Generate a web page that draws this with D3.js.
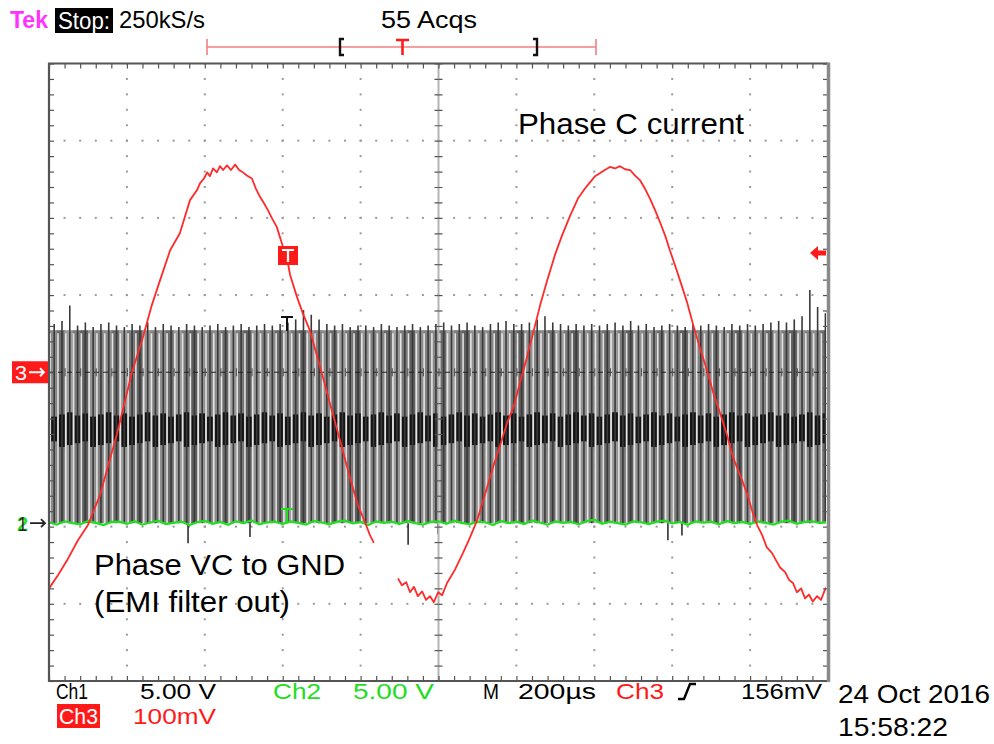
<!DOCTYPE html>
<html><head><meta charset="utf-8">
<script src="https://cdn.jsdelivr.net/npm/d3@7"></script>
<style>html,body{margin:0;padding:0;background:#fff;} svg{display:block;}</style>
</head><body><svg id="c" width="994" height="744"></svg>
<script>
// ---------------- DATA ----------------
const timeDomainUs = [0, 2000];          // 10 div x 200 µs
const divDomain = [-4, 4];               // 8 vertical divisions
const ch1VoltsPerDiv = 5, ch1PosDiv = -1.955;
const ch3mVPerDiv = 100, ch3PosDiv = 0;

// Ch3 (phase C current, red) – segment before sweep gap
const ch3Seg1T = [0,23,46,74,100,131,175,213,241,264,285,311,336,362,380,388,398,406,413,421,431,439,447,457,467,478,488,498,508,521,531,542,552,562,573,585,601,611,619,637,652,670,691,709,721,747,773,793,811,824,834];
const ch3Seg1mV = [-280,-263,-244,-218,-198,-159,-79,0,45,87,119,158,180,223,236,245,251,259,254,264,259,267,262,268,262,269,262,259,255,251,238,227,219,210,199,188,162,148,126,97,76,54,16,-17,-40,-88,-137,-172,-194,-211,-221];
// segment after gap
const ch3Seg2T = [896,906,917,927,937,947,958,968,978,988,999,1009,1022,1042,1063,1081,1099,1119,1140,1158,1176,1194,1209,1227,1243,1261,1279,1299,1317,1338,1358,1376,1389,1402,1415,1427,1440,1453,1466,1479,1492,1504,1517,1530,1543,1556,1569,1582,1594,1607,1620,1638,1653,1671,1689,1705,1723,1741,1756,1774,1792,1805,1818,1831,1843,1856,1867,1877,1890,1900,1910,1920,1931,1941,1951,1961,1972,1982,1992,1997];
const ch3Seg2mV = [-267,-276,-272,-285,-278,-290,-284,-295,-290,-298,-285,-289,-273,-256,-234,-214,-192,-159,-123,-95,-66,-43,-14,19,51,87,119,152,177,203,225,238,246,254,258,262,266,264,267,263,262,255,249,238,225,210,194,177,158,139,119,91,63,32,3,-26,-53,-82,-110,-133,-157,-179,-198,-211,-227,-234,-244,-253,-259,-269,-273,-285,-280,-293,-288,-297,-290,-295,-282,-278];

// Ch1 (phase VC to GND, black PWM) – one switching period per stripe
const ch1SwitchUs = 20;
const ch1HighV = 12.5;
const ch1MidBandV = [5.3, 6.9];
const ch1PeakV = [12.9,13.1,14.1,12.8,13.0,12.7,12.9,13.0,12.8,12.7,
  12.9,12.8,13.0,12.7,12.9,12.8,12.7,12.9,12.8,12.7,
  12.8,12.9,12.7,12.8,12.9,12.7,12.8,12.9,12.8,12.9,
  13.0,13.2,13.8,13.5,13.2,12.9,12.8,12.9,12.7,12.8,
  12.8,12.7,12.9,12.8,12.7,12.8,12.9,12.7,12.8,12.9,
  13.0,12.8,12.9,13.0,12.8,12.7,12.9,13.0,13.1,12.9,
  12.9,13.0,13.2,13.4,13.0,12.9,12.8,12.9,12.8,12.9,
  12.8,12.9,13.0,12.8,13.1,12.8,12.9,12.7,12.8,12.9,
  12.8,12.7,12.9,12.8,12.9,12.8,12.7,12.9,12.8,12.9,
  12.8,12.9,13.0,13.1,13.0,13.2,13.4,15.1,14.0,13.6];
const ch1DipT = [357,516,922,999,1589,1625];
const ch1DipV = [-1.3,-0.9,-1.4,-0.7,-1.1,-0.8];

// Ch2 (green) – sampled every 20 µs
const ch2V = [0.05,-0.1,0.12,0.0,-0.08,0.15,0.02,-0.12,0.08,0.1,-0.05,0.12,-0.1,0.04,0.16,-0.06,0.02,0.1,-0.12,0.06,
  0.14,-0.04,0.08,-0.1,0.12,0.0,0.18,-0.08,0.05,0.1,-0.06,0.12,0.02,-0.1,0.15,0.04,-0.08,0.1,0.16,-0.02,
  0.08,-0.12,0.12,0.02,0.1,-0.06,0.14,0.0,-0.1,0.08,0.12,-0.04,0.16,0.02,-0.08,0.1,0.06,-0.12,0.14,0.0,
  0.1,-0.06,0.18,0.04,-0.1,0.12,0.02,0.08,-0.08,0.14,0.22,-0.04,0.1,0.0,-0.1,0.12,0.06,-0.06,0.1,0.16,
  -0.02,0.08,-0.1,0.12,0.04,0.1,-0.08,0.14,0.0,0.08,-0.06,0.12,0.02,-0.1,0.1,0.16,-0.04,0.08,0.12,0.0,0.1];
const ch2StepUs = 20;

// texts
const topLabels = ["Tek", "Stop:", "250kS/s", "55 Acqs"];
const bottomLabels = ["Ch1", "5.00 V", "Ch2", "5.00 V", "M", "200µs", "Ch3", "156mV"];
const ch3Label = ["Ch3", "100mV"];
const dateLabels = ["24 Oct 2016", "15:58:22"];
const annotations = ["Phase C current", "Phase VC to GND", "(EMI filter out)"];

// ---------------- DRAW ----------------
const svg = d3.select("#c");
const L = 49, R = 828, T = 63.5, B = 681;
const x = d3.scaleLinear().domain(timeDomainUs).range([L, R]);
const yDiv = d3.scaleLinear().domain(divDomain).range([B, T]);
const y1 = v => yDiv(v / ch1VoltsPerDiv + ch1PosDiv);
const y3 = mv => yDiv(mv / ch3mVPerDiv + ch3PosDiv);

svg.append("rect").attr("width", 994).attr("height", 744).attr("fill", "#fff");
const defs = svg.append("defs");
defs.append("clipPath").attr("id", "clip").append("rect")
  .attr("x", L).attr("y", T).attr("width", R - L - 2).attr("height", B - T);

const plot = svg.append("g").attr("clip-path", "url(#clip)");

// grid dots
const dotG = plot.append("g").attr("fill", "#9a9a9a");
const minorDiv = d3.range(-4, 4.001, 0.2);
const minorT = d3.range(0, 2000.1, 40);
[1,2,3,4,6,7,8,9].forEach(k => {
  const t = k * 200;
  dotG.selectAll(null).data(minorDiv).join("rect")
    .attr("x", x(t) - 1).attr("y", d => yDiv(d) - 1).attr("width", 2).attr("height", 2);
});
[-3,-2,-1,1,2,3].forEach(j => {
  dotG.selectAll(null).data(minorT).join("rect")
    .attr("x", d => x(d) - 1).attr("y", yDiv(j) - 1).attr("width", 2).attr("height", 2);
});

// Ch1 PWM stripes
const shades = ["#8a8a8a", "#6c6c6c", "#9c9c9c", "#7a7a7a", "#5f5f5f", "#929292", "#828282"];
const stripeW = x(ch1SwitchUs) - x(0);
const ch1 = plot.append("g");
ch1.selectAll("rect.base").data(ch1PeakV).join("rect").attr("class", "base")
  .attr("x", (d, i) => x(i * ch1SwitchUs)).attr("width", stripeW + 0.3)
  .attr("y", y1(ch1HighV)).attr("height", y1(0) - y1(ch1HighV))
  .attr("fill", (d, i) => shades[i % shades.length]);
const bandTop = i => y1(ch1MidBandV[1] + ((i * 7) % 5) * 0.07);
const bandBot = i => y1(ch1MidBandV[0] - ((i * 3) % 4) * 0.12);
ch1.selectAll("rect.band").data(ch1PeakV).join("rect").attr("class", "band")
  .attr("x", (d, i) => x(i * ch1SwitchUs) + 2.2).attr("width", stripeW - 2.0)
  .attr("y", (d, i) => bandTop(i))
  .attr("height", (d, i) => bandBot(i) - bandTop(i))
  .attr("fill", "#141414");
ch1.selectAll("line.light").data(ch1PeakV).join("line").attr("class", "light")
  .attr("x1", (d, i) => x(i * ch1SwitchUs) + 1.2).attr("x2", (d, i) => x(i * ch1SwitchUs) + 1.2)
  .attr("y1", y1(ch1HighV - 0.2)).attr("y2", y1(0))
  .attr("stroke", "#e4e4e4").attr("stroke-width", 1.6);
ch1.selectAll("line.dark").data(ch1PeakV).join("line").attr("class", "dark")
  .attr("x1", (d, i) => x(i * ch1SwitchUs) + 5.2).attr("x2", (d, i) => x(i * ch1SwitchUs) + 5.2)
  .attr("y1", d => y1(d)).attr("y2", y1(0))
  .attr("stroke", "#3a3a3a").attr("stroke-width", 1.6);
ch1.selectAll("line.dip").data(ch1DipT).join("line").attr("class", "dip")
  .attr("x1", d => x(d)).attr("x2", d => x(d))
  .attr("y1", y1(0)).attr("y2", (d, i) => y1(ch1DipV[i]))
  .attr("stroke", "#222").attr("stroke-width", 1.5);

// center cross lines
plot.append("line").attr("x1", x(1000)).attr("x2", x(1000)).attr("y1", T).attr("y2", B)
  .attr("stroke", "#b4b4b4").attr("stroke-width", 2);
plot.append("line").attr("x1", L).attr("x2", R).attr("y1", yDiv(0)).attr("y2", yDiv(0))
  .attr("stroke", "#222").attr("stroke-width", 1.2).attr("stroke-dasharray", "5,4");
function styleAxis(g) {
  g.select(".domain").remove();
  g.selectAll(".tick line").attr("stroke", "#555").attr("stroke-width", 1.2);
  g.selectAll("text").remove();
}
const ctrH = plot.append("g");
ctrH.append("g").attr("transform", `translate(0,${yDiv(0)})`)
  .call(d3.axisBottom(x).tickValues(minorT).tickSize(4).tickFormat("")).call(styleAxis);
ctrH.append("g").attr("transform", `translate(0,${yDiv(0)})`)
  .call(d3.axisTop(x).tickValues(minorT).tickSize(4).tickFormat("")).call(styleAxis);
ctrH.append("g").attr("transform", `translate(${x(1000)},0)`)
  .call(d3.axisLeft(yDiv).tickValues(minorDiv).tickSize(4).tickFormat("")).call(styleAxis);
ctrH.append("g").attr("transform", `translate(${x(1000)},0)`)
  .call(d3.axisRight(yDiv).tickValues(minorDiv).tickSize(4).tickFormat("")).call(styleAxis);

// Ch2 green
plot.append("path").datum(ch2V)
  .attr("d", d3.line().x((d, i) => x(i * ch2StepUs)).y(d => y1(d)))
  .attr("fill", "none").attr("stroke", "#1fe01f").attr("stroke-width", 2.2);

// Ch3 red
const line3 = d3.line().x(d => x(d[0])).y(d => y3(d[1]));
[[ch3Seg1T, ch3Seg1mV], [ch3Seg2T, ch3Seg2mV]].forEach(([ts, vs]) => {
  plot.append("path").datum(ts.map((t, i) => [t, vs[i]]))
    .attr("d", line3).attr("fill", "none").attr("stroke", "#ff2a2a")
    .attr("stroke-width", 1.8).attr("stroke-linejoin", "round");
});

// graticule border + border ticks
const frame = svg.append("g");
frame.append("g").attr("transform", `translate(0,${T})`)
  .call(d3.axisBottom(x).tickValues(minorT).tickSize(5).tickFormat("")).call(styleAxis);
frame.append("g").attr("transform", `translate(0,${B})`)
  .call(d3.axisTop(x).tickValues(minorT).tickSize(5).tickFormat("")).call(styleAxis);
frame.append("g").attr("transform", `translate(${L},0)`)
  .call(d3.axisRight(yDiv).tickValues(minorDiv).tickSize(5).tickFormat("")).call(styleAxis);
frame.append("g").attr("transform", `translate(${R},0)`)
  .call(d3.axisLeft(yDiv).tickValues(minorDiv).tickSize(5).tickFormat("")).call(styleAxis);
frame.append("path").attr("d", `M${R},${T}H${L}V${B}H${R}`)
  .attr("fill", "none").attr("stroke", "#555").attr("stroke-width", 2.2);
frame.append("line").attr("x1", R + 0.5).attr("x2", R + 0.5).attr("y1", T - 1).attr("y2", B + 1)
  .attr("stroke", "#8a8a8a").attr("stroke-width", 3.5);

// ------ text helper ------
const FONT = "'Liberation Sans', Arial, sans-serif";
function txt(s, x0, yb, w, size, fill, weight) {
  return svg.append("text").text(s).attr("x", x0).attr("y", yb)
    .attr("font-family", FONT).attr("font-size", size).attr("fill", fill || "#000")
    .attr("font-weight", weight || "normal")
    .attr("textLength", w).attr("lengthAdjust", "spacingAndGlyphs");
}

// top status line
txt(topLabels[0], 10, 28, 38, 24, "#ff33ff", "bold");
svg.append("rect").attr("x", 55).attr("y", 8).attr("width", 58).attr("height", 25).attr("fill", "#000");
txt(topLabels[1], 58, 29, 52, 24, "#fff");
txt(topLabels[2], 119, 28, 86, 24, "#000");
txt(topLabels[3], 381, 28, 96, 24, "#000");

// trigger ruler
const ruler = svg.append("g").attr("stroke", "#f28080").attr("stroke-width", 1.6);
ruler.append("line").attr("x1", 207).attr("x2", 596).attr("y1", 47).attr("y2", 47);
ruler.append("line").attr("x1", 207).attr("x2", 207).attr("y1", 39).attr("y2", 55);
ruler.append("line").attr("x1", 596).attr("x2", 596).attr("y1", 39).attr("y2", 55);
svg.append("path").attr("d", "M344,39H340V55H344").attr("fill", "none").attr("stroke", "#111").attr("stroke-width", 2.4);
svg.append("path").attr("d", "M533,39H537V55H533").attr("fill", "none").attr("stroke", "#111").attr("stroke-width", 2.4);
svg.append("path").attr("d", "M396,40H409M402.5,40V55").attr("fill", "none").attr("stroke", "#ff1a1a").attr("stroke-width", 2.6);

// bottom readouts
const bl = bottomLabels;
const BY = 699, BS = 22.5;
txt(bl[0], 56, BY, 32, BS, "#000");
txt(bl[1], 140, BY, 76, BS, "#000");
txt(bl[2], 273, BY, 48, BS, "#22dd22");
txt(bl[3], 353, BY, 81, BS, "#22dd22");
txt(bl[4], 483, BY, 16, BS, "#000");
txt(bl[5], 518, BY, 78, BS, "#000");
txt(bl[6], 616, BY, 48, BS, "#ff1a1a");
svg.append("path").attr("d", "M678,699H684L690,684H696").attr("fill", "none").attr("stroke", "#000").attr("stroke-width", 2.4);
txt(bl[7], 741, BY, 81, BS, "#000");
svg.append("rect").attr("x", 57).attr("y", 704).attr("width", 43).attr("height", 24).attr("fill", "#ff1a1a");
txt(ch3Label[0], 59, 724, 39, BS, "#fff");
txt(ch3Label[1], 133, 724, 83, BS, "#ff1a1a");
txt(dateLabels[0], 838, 703, 152, 25, "#000");
txt(dateLabels[1], 838, 736, 110, 25, "#000");

// annotations
txt(annotations[0], 518, 134, 226, 29, "#000");
txt(annotations[1], 94, 575, 251, 29, "#000");
txt(annotations[2], 94, 612, 196, 29, "#000");

// channel markers
svg.append("rect").attr("x", 12).attr("y", yDiv(ch3PosDiv) - 11).attr("width", 36).attr("height", 22).attr("fill", "#ff1a1a");
txt("3", 15, yDiv(ch3PosDiv) + 8, 12, 21, "#fff");
svg.append("path").attr("d", `M29,${yDiv(ch3PosDiv)}H44M40,${yDiv(ch3PosDiv)-4}L44,${yDiv(ch3PosDiv)}L40,${yDiv(ch3PosDiv)+4}`)
  .attr("fill", "none").attr("stroke", "#fff").attr("stroke-width", 1.8);
const g0 = y1(0);
txt("2", 17, g0 + 8, 11, 21, "#22dd22", "bold");
txt("1", 18, g0 + 8, 9, 21, "#222");
svg.append("path").attr("d", `M30,${g0}H45M41,${g0-4}L45,${g0}L41,${g0+4}`)
  .attr("fill", "none").attr("stroke", "#222").attr("stroke-width", 1.8);

// trigger level arrow (right) and trigger T markers
const trigY = 253;
svg.append("path").attr("d", `M810,${trigY}L818,${trigY-7}V${trigY-2.5}H826V${trigY+2.5}H818V${trigY+7}Z`).attr("fill", "#ff1a1a");
svg.append("rect").attr("x", 278).attr("y", 246).attr("width", 20).attr("height", 19).attr("fill", "#ff1a1a");
svg.append("path").attr("d", "M282,250H294M288,250V262").attr("stroke", "#fff").attr("stroke-width", 2.2).attr("fill", "none");
svg.append("path").attr("d", "M281,317H293M287,317V331").attr("stroke", "#111").attr("stroke-width", 2).attr("fill", "none");
svg.append("path").attr("d", "M281,509H293M287,509V522").attr("stroke", "#22dd22").attr("stroke-width", 2).attr("fill", "none");
</script></body></html>
